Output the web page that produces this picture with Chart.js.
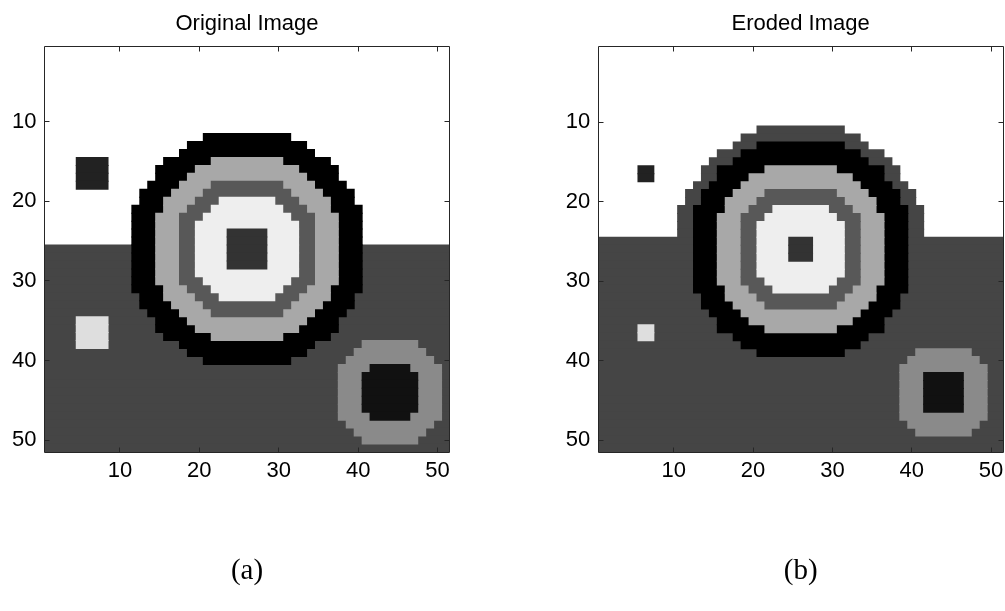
<!DOCTYPE html>
<html>
<head>
<meta charset="utf-8">
<script src="https://cdn.jsdelivr.net/npm/chart.js@4.4.0/dist/chart.umd.min.js"></script>
<style>
  html, body { margin: 0; padding: 0; background: #fff; }
  body { width: 1005px; height: 611px; overflow: hidden; position: relative; }
  canvas { position: absolute; top: 0; }
  #chartA { left: 0; }
  #chartB { left: 550px; }
</style>
</head>
<body>
<canvas id="chartA" width="500" height="611"></canvas>
<canvas id="chartB" width="470" height="611"></canvas>
<script>
// tick labels (same on both axes of both panels)
const xTicks = [10, 20, 30, 40, 50];
const yTicks = [10, 20, 30, 40, 50];
const fullCols = [1, 51];

// gray levels used by the images
const WHITE = '#ffffff', GROUND = '#454545', BLACK = '#000000', RING = '#a8a8a8',
      MID = '#585858', PALE = '#eeeeee', CORE = '#333333', DOT_DARK = '#222222',
      DOT_LIGHT = '#dedede', BLOB = '#8a8a8a', BLOB_CORE = '#111111';

// ---- (a) Original Image ----
// half widths per row around column 26 (big target) / column 44 (small target)
const aSkyRows = [1, 25];
const aGroundRows = [26, 51];
const aOuterBlack = [5, 7, 8, 10, 11, 11, 12, 13, 13, 14, 14, 14, 14, 14, 14, 14, 14, 14, 14, 14, 13, 13, 12, 11, 11, 10, 8, 7, 5]; // rows 12-40
const aRing = [4, 6, 7, 8, 9, 10, 10, 11, 11, 11, 11, 11, 11, 11, 11, 11, 10, 10, 9, 8, 7, 6, 4];                          // rows 15-37
const aMid = [4, 5, 6, 7, 8, 8, 8, 8, 8, 8, 8, 8, 8, 7, 6, 5, 4];                                                        // rows 18-34
const aPale = [3, 4, 5, 6, 6, 6, 6, 6, 6, 6, 5, 4, 3];                                                                   // rows 20-32
const aCore = [2, 2, 2, 2, 2];                                                                                           // rows 24-28
const aBlob = [3, 4, 5, 6, 6, 6, 6, 6, 6, 6, 5, 4, 3];                                                                   // rows 38-50
const aBlobCore = [2, 3, 3, 3, 3, 3, 2];                                                                                 // rows 41-47
const aDarkDot = { rows: [15, 18], cols: [5, 8] };
const aLightDot = { rows: [35, 38], cols: [5, 8] };

// ---- (b) Eroded Image ----
const bSkyRows = [1, 24];
const bGroundRows = [25, 51];
const bHalo = [5, 7, 8, 10, 11, 12, 12, 13, 14, 14, 15, 15, 15, 15];                                                    // rows 11-24
const bOuterBlack = [5, 7, 8, 10, 10, 11, 12, 12, 13, 13, 13, 13, 13, 13, 13, 13, 13, 13, 13, 12, 12, 11, 10, 10, 8, 7, 5]; // rows 13-39
const bRing = [4, 6, 7, 8, 9, 9, 10, 10, 10, 10, 10, 10, 10, 10, 10, 9, 9, 8, 7, 6, 4];                                   // rows 16-36
const bMid = [4, 5, 6, 7, 7, 7, 7, 7, 7, 7, 7, 7, 6, 5, 4];                                                              // rows 19-33
const bPale = [3, 4, 5, 5, 5, 5, 5, 5, 5, 4, 3];                                                                         // rows 21-31
const bCore = [1, 1, 1];                                                                                                 // rows 25-27
const bBlob = [3, 4, 5, 5, 5, 5, 5, 5, 5, 4, 3];                                                                         // rows 39-49
const bBlobCore = [2, 2, 2, 2, 2];                                                                                       // rows 42-46
const bDarkDot = { rows: [16, 17], cols: [6, 7] };
const bLightDot = { rows: [36, 37], cols: [6, 7] };

// one horizontal floating bar per image row
function rowSpans(center, firstRow, half) {
    return half.map((h, i) => ({ y: firstRow + i, x: [center - h - 0.5, center + h + 0.5] }));
}
function rectSpans(rows, cols) {
    const out = [];
    for (let r = rows[0]; r <= rows[1]; r++) out.push({ y: r, x: [cols[0] - 0.5, cols[1] + 0.5] });
    return out;
}

const layersA = [
    { color: WHITE, spans: rectSpans(aSkyRows, fullCols) },
    { color: GROUND, spans: rectSpans(aGroundRows, fullCols) },
    { color: BLACK, spans: rowSpans(26, 12, aOuterBlack) },
    { color: RING, spans: rowSpans(26, 15, aRing) },
    { color: MID, spans: rowSpans(26, 18, aMid) },
    { color: PALE, spans: rowSpans(26, 20, aPale) },
    { color: CORE, spans: rowSpans(26, 24, aCore) },
    { color: DOT_DARK, spans: rectSpans(aDarkDot.rows, aDarkDot.cols) },
    { color: DOT_LIGHT, spans: rectSpans(aLightDot.rows, aLightDot.cols) },
    { color: BLOB, spans: rowSpans(44, 38, aBlob) },
    { color: BLOB_CORE, spans: rowSpans(44, 41, aBlobCore) }
];

const layersB = [
    { color: WHITE, spans: rectSpans(bSkyRows, fullCols) },
    { color: GROUND, spans: rectSpans(bGroundRows, fullCols) },
    { color: GROUND, spans: rowSpans(26, 11, bHalo) },
    { color: BLACK, spans: rowSpans(26, 13, bOuterBlack) },
    { color: RING, spans: rowSpans(26, 16, bRing) },
    { color: MID, spans: rowSpans(26, 19, bMid) },
    { color: PALE, spans: rowSpans(26, 21, bPale) },
    { color: CORE, spans: rowSpans(26, 25, bCore) },
    { color: DOT_DARK, spans: rectSpans(bDarkDot.rows, bDarkDot.cols) },
    { color: DOT_LIGHT, spans: rectSpans(bLightDot.rows, bLightDot.cols) },
    { color: BLOB, spans: rowSpans(44, 39, bBlob) },
    { color: BLOB_CORE, spans: rowSpans(44, 42, bBlobCore) }
];

// matlab style box with inward ticks on all four sides
const matlabAxes = {
    id: 'matlabAxes',
    afterDatasetsDraw(chart) {
        const { ctx, chartArea: a, scales: { x, y } } = chart;
        const snap = v => Math.floor(v) + 0.5;
        const L = snap(a.left), R = snap(a.right), T = snap(a.top), B = snap(a.bottom);
        ctx.save();
        ctx.strokeStyle = '#262626';
        ctx.lineWidth = 1;
        ctx.beginPath();
        ctx.rect(L, T, R - L, B - T);
        x.ticks.forEach(t => {
            const px = snap(x.getPixelForValue(t.value));
            ctx.moveTo(px, T); ctx.lineTo(px, T + 5);
            ctx.moveTo(px, B); ctx.lineTo(px, B - 5);
        });
        y.ticks.forEach(t => {
            const py = snap(y.getPixelForValue(t.value));
            ctx.moveTo(L, py); ctx.lineTo(L + 5, py);
            ctx.moveTo(R, py); ctx.lineTo(R - 5, py);
        });
        ctx.stroke();
        ctx.restore();
    }
};

function buildChart(id, titleText, caption, layers, box) {
    const datasets = layers.map((layer, i) => ({
        data: layer.spans,
        backgroundColor: layer.color,
        borderWidth: 0,
        grouped: false,
        barPercentage: 1,
        categoryPercentage: 1,
        inflateAmount: 0.5,
        order: layers.length - i
    }));

    new Chart(document.getElementById(id), {
        type: 'bar',
        data: { datasets },
        plugins: [matlabAxes],
        options: {
            indexAxis: 'y',
            responsive: false,
            animation: false,
            events: [],
            layout: { padding: { left: 0, right: box.padRight, top: 0, bottom: 0 } },
            plugins: {
                legend: { display: false },
                tooltip: { enabled: false },
                title: {
                    display: true,
                    text: titleText,
                    fullSize: false,
                    color: '#000',
                    font: { family: 'Liberation Sans', size: 22, weight: 'normal', lineHeight: 1.2 },
                    padding: { top: 10.8, bottom: box.titleBottom }
                }
            },
            scales: {
                x: {
                    type: 'linear',
                    position: 'bottom',
                    min: 0.5,
                    max: 51.5,
                    offset: false,
                    bounds: 'data',
                    afterBuildTicks: s => { s.ticks = xTicks.map(v => ({ value: v })); },
                    afterFit: s => { s.height = 611 - box.bottom; },
                    grid: { display: false, drawTicks: false },
                    border: { display: false },
                    ticks: { color: '#000', padding: 6, autoSkip: false, maxRotation: 0,
                             font: { family: 'Liberation Sans', size: 22 } },
                    title: {
                        display: true,
                        text: caption,
                        color: '#000',
                        font: { family: 'Liberation Serif', size: 29, lineHeight: 1.2 },
                        padding: { top: 0, bottom: 22.6 }
                    }
                },
                y: {
                    type: 'linear',
                    min: 0.5,
                    max: 51.5,
                    reverse: true,
                    offset: false,
                    bounds: 'data',
                    afterBuildTicks: s => { s.ticks = yTicks.map(v => ({ value: v })); },
                    afterFit: s => { s.width = box.left; },
                    grid: { display: false, drawTicks: false },
                    border: { display: false },
                    ticks: { color: '#000', padding: 8, autoSkip: false,
                             font: { family: 'Liberation Sans', size: 22 } }
                }
            }
        }
    });
}

buildChart('chartA', 'Original Image', '(a)', layersA, { left: 44.5, padRight: 50.5, bottom: 452, titleBottom: 8.8 });
buildChart('chartB', 'Eroded Image', '(b)', layersB, { left: 48.3, padRight: 17, bottom: 452, titleBottom: 9.3 });
</script>
</body>
</html>
